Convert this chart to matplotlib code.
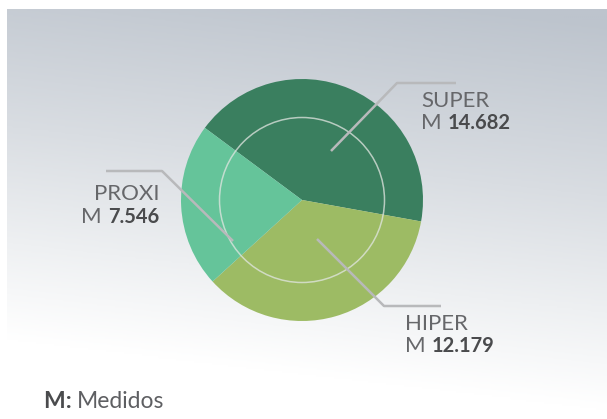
import numpy as np
import matplotlib
matplotlib.use("Agg")
import matplotlib.pyplot as plt
from matplotlib.colors import LinearSegmentedColormap

# Data
categories = ["SUPER", "HIPER", "PROXI"]
values = [14.682, 12.179, 7.546]
value_labels = ["14.682", "12.179", "7.546"]
colors = ["#3a7f5f", "#9dbb64", "#65c49a"]
footer_key = "M:"
footer_text = "Medidos"

W, H = 607, 419
fig = plt.figure(figsize=(W / 100, H / 100), dpi=100)
ax = fig.add_axes([0, 0, 1, 1])

# Background gradient (darker top-right, fading to white at bottom)
ny, nx = 200, 300
yy, xx = np.mgrid[0:1:ny * 1j, 0:1:nx * 1j]  # yy=0 at top
t = np.clip(1.05 * yy + 0.18 * (1 - xx) - 0.03, 0, 1)
cmap = LinearSegmentedColormap.from_list(
    "bg", [(0, "#bdc4cd"), (0.45, "#d9dde2"), (0.75, "#eef0f2"), (1.0, "#ffffff")])
ax.imshow(t, cmap=cmap, extent=[7, W, 0, H - 10], origin="upper",
          aspect="auto", zorder=0, vmin=0, vmax=1)

cx, cy, R = 302, 219, 121
wedges, _ = ax.pie(values, colors=colors, startangle=143.4, counterclock=False,
                   center=(cx, cy), radius=R, frame=True,
                   wedgeprops=dict(linewidth=0))
for w in wedges:
    w.set_zorder(2)
ax.set_xlim(0, W)
ax.set_ylim(0, H)
ax.set_aspect("equal")
ax.axis("off")

inner = plt.Circle((cx, cy), 82.5, fill=False, ec="#e2e6e2", lw=1.1, alpha=0.75, zorder=3)
ax.add_patch(inner)

line_kw = dict(color="#b8b9bb", lw=1.8, zorder=4, solid_capstyle="butt")
# SUPER leader
ax.plot([331, 397, 456], [H - 151, H - 83, H - 83], **line_kw)
# PROXI leader
ax.plot([106, 162, 233], [H - 171, H - 171, H - 241], **line_kw)
# HIPER leader
ax.plot([317, 384, 441], [H - 239, H - 306, H - 306], **line_kw)

FONT = ["Lato", "DejaVu Sans"]
name_kw = dict(fontfamily=FONT, fontsize=16, color="#66676a",
               fontweight="normal", zorder=5)
num_kw = dict(fontfamily=FONT, fontsize=14.5, fontweight="bold",
              color="#4a4b4d", zorder=5)

def label(x, yb1, yb2, name, val, ha="left"):
    ax.text(x, H - yb1, name, ha=ha, va="baseline", **name_kw)
    if ha == "left":
        tm = ax.text(x, H - yb2, "M ", ha="left", va="baseline", **name_kw)
        ax.annotate(val, xycoords=tm, xy=(1, 0), va="bottom", ha="left", **num_kw)
    else:
        tn = ax.text(x, H - yb2, val, ha="right", va="baseline", **num_kw)
        ax.annotate("M ", xycoords=tn, xy=(0, 0), va="bottom", ha="right", **name_kw)

label(421, 107, 129, categories[0], value_labels[0])
label(405, 330, 352, categories[1], value_labels[1])
label(159, 200, 223, categories[2], value_labels[2], ha="right")

ft = ax.text(44, H - 408, footer_key + " ", ha="left", va="baseline",
             fontfamily=FONT, fontsize=16.5, fontweight="bold", color="#4a4b4d")
ax.annotate(footer_text, xycoords=ft, xy=(1, 0), va="bottom", ha="left",
            fontfamily=FONT, fontsize=16.5, color="#5e5f62")

fig.savefig("out.png", dpi=100)
